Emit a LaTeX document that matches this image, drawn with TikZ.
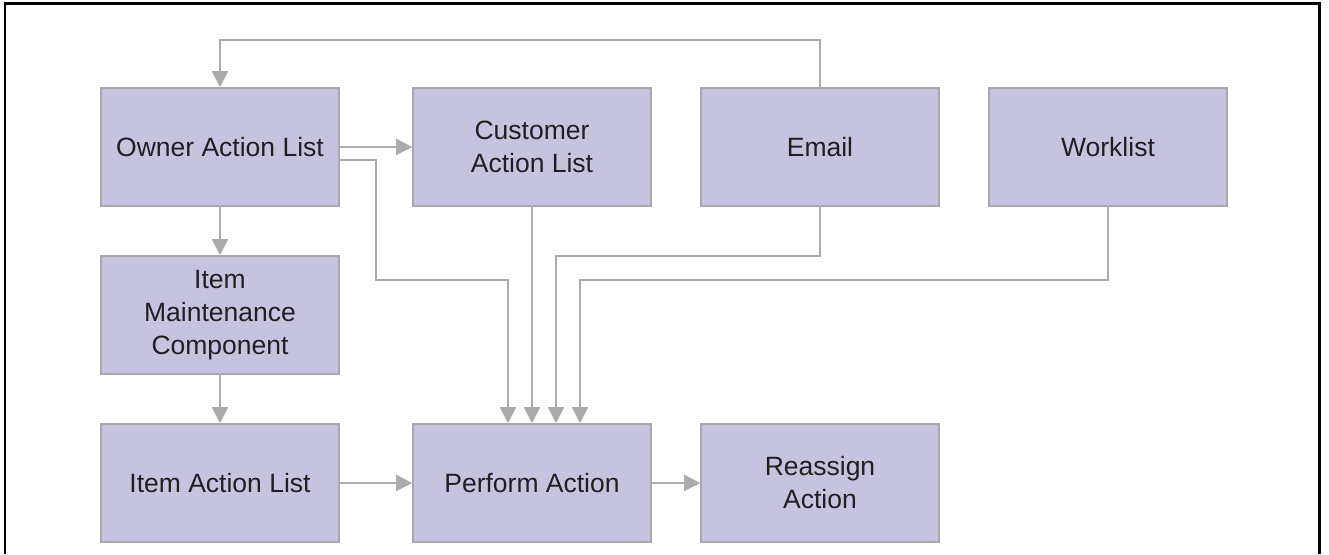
\documentclass[tikz,border=0pt]{standalone}
\usepackage{fontspec}
\setmainfont{Liberation Sans}
\usetikzlibrary{arrows.meta,calc}
\definecolor{boxfill}{HTML}{C6C3E1}
\definecolor{boxline}{HTML}{A9A9AC}
\definecolor{connline}{HTML}{ABABAE}
\definecolor{txt}{HTML}{231F20}
\tikzset{
  blk/.style={draw=boxline, line width=1.6pt, fill=boxfill, minimum width=238pt, minimum height=118pt,
    inner sep=0pt, align=center, text=txt, font=\fontsize{26.5}{33}\selectfont},
  conn/.style={draw=connline, line width=1.6pt, -{Triangle[length=16pt,width=16pt]}},
}
\begin{document}
\begin{tikzpicture}[x=1pt,y=-1pt]
\useasboundingbox (0,0) rectangle (1329,554);
\draw[line width=2.6pt] (5,554) -- (5,3.5) -- (1319.5,3.5) -- (1319.5,554);

\node[blk] (owner) at (220,147) {Owner Action List};
\node[blk] (cust) at (532,147) {Customer\\Action List};
\node[blk] (email) at (820,147) {Email};
\node[blk] (work) at (1108,147) {Worklist};
\node[blk] (maint) at (220,315) {Item\\Maintenance\\Component};
\node[blk] (item) at (220,483) {Item Action List};
\node[blk] (perf) at (532,483) {Perform Action};
\node[blk] (reas) at (820,483) {Reassign\\Action};

\coordinate (t1) at (820,40);
\coordinate (t2) at (220,40);
\draw[conn] (email.north) -- (t1) -- (t2) -- (owner.north);

\draw[conn] (owner.east) -- (cust.west);

\coordinate (o1) at (340,160);
\coordinate (o2) at (376,160);
\coordinate (o3) at (376,280);
\coordinate (o4) at (508,280);
\draw[conn] (o1) -- (o2) -- (o3) -- (o4) -- (o4 |- perf.north);

\draw[conn] (cust.south) -- (perf.north);

\coordinate (e1) at (820,256);
\coordinate (e2) at (556,256);
\draw[conn] (email.south) -- (e1) -- (e2) -- (e2 |- perf.north);

\coordinate (w1) at (1108,280);
\coordinate (w2) at (580,280);
\draw[conn] (work.south) -- (w1) -- (w2) -- (w2 |- perf.north);

\draw[conn] (owner.south) -- (maint.north);
\draw[conn] (maint.south) -- (item.north);
\draw[conn] (item.east) -- (perf.west);
\draw[conn] (perf.east) -- (reas.west);
\end{tikzpicture}
\end{document}
